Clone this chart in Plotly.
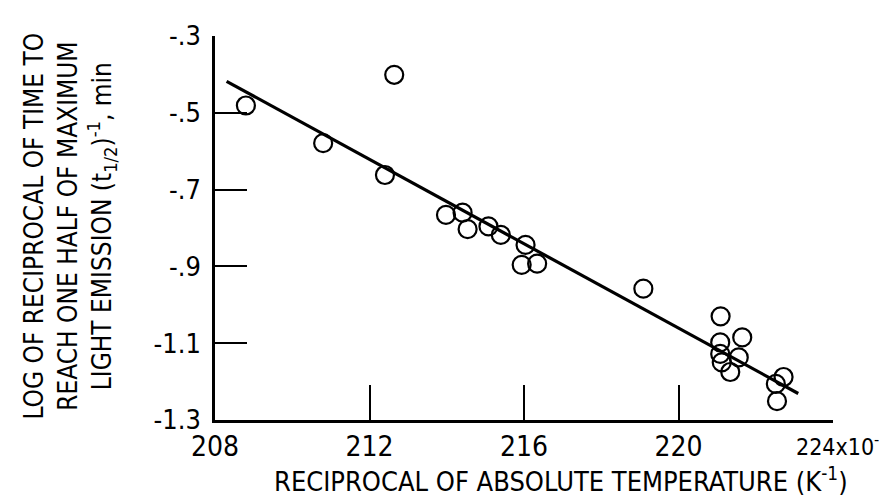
import plotly.graph_objects as go

# data (x in units of 1e-5 K^-1)
x_vals = [208.80, 210.80, 212.40, 212.64, 213.98, 214.41, 214.54, 215.08, 215.40,
          216.04, 215.94, 216.34, 219.09, 221.09, 221.08, 221.65, 221.08, 221.12,
          221.56, 221.34, 222.52, 222.72, 222.55]
y_vals = [-0.481, -0.579, -0.662, -0.401, -0.766, -0.760, -0.803, -0.796, -0.818,
          -0.844, -0.896, -0.893, -0.958, -1.030, -1.098, -1.085, -1.128, -1.150,
          -1.137, -1.175, -1.206, -1.188, -1.251]
fit_x = [208.3, 223.1]
fit_y = [-0.418, -1.231]

x_ticks = [208, 212, 216, 220, 224]
x_tick_text = ["208", "212", "216", "220", ""]
y_ticks = [-0.3, -0.5, -0.7, -0.9, -1.1, -1.3]
y_tick_text = ["-.3", "-.5", "-.7", "-.9", "-1.1", "-1.3"]

FONT = "Liberation Sans Narrow, DejaVu Sans Condensed, Arial Narrow, sans-serif"

W, H = 887, 498
L, R, T, B = 207, 62, 25, 86
PW, PH = W - L - R, H - T - B


def px(xp):
    return (xp - L) / PW


def py(yp):
    return (H - B - yp) / PH


fig = go.Figure()
fig.add_trace(go.Scatter(x=fit_x, y=fit_y, mode="lines",
                         line=dict(color="black", width=3.2), hoverinfo="skip"))
fig.add_trace(go.Scatter(x=x_vals, y=y_vals, mode="markers",
                         marker=dict(symbol="circle-open", size=18, color="black",
                                     line=dict(width=2.2, color="black"))))

fig.update_layout(
    width=W, height=H,
    margin=dict(l=L, r=R, t=T, b=B),
    paper_bgcolor="white", plot_bgcolor="white",
    showlegend=False,
    font=dict(family=FONT, color="black"),
    xaxis=dict(range=[208, 224], tickvals=x_ticks, ticktext=x_tick_text,
               ticks="inside", ticklen=35, tickwidth=2, tickcolor="black",
               showline=True, linecolor="black", linewidth=2.5,
               showgrid=False, zeroline=False,
               tickfont=dict(family=FONT, size=28, color="black")),
    yaxis=dict(range=[-1.3, -0.3], tickvals=y_ticks, ticktext=y_tick_text,
               ticks="inside", ticklen=32, tickwidth=2, tickcolor="black",
               showline=True, linecolor="black", linewidth=2.5,
               showgrid=False, zeroline=False, ticklabelstandoff=6,
               tickfont=dict(family=FONT, size=27, color="black")),
    annotations=[
        dict(text="224x10<sup>-5</sup>", x=px(786), y=py(420), xref="paper", yref="paper",
             xanchor="left", yanchor="top", showarrow=False,
             font=dict(family=FONT, size=23, color="black")),
        dict(text="RECIPROCAL OF ABSOLUTE TEMPERATURE (K<sup>-1</sup>)",
             x=px(553), y=py(492), xref="paper", yref="paper", showarrow=False,
             xanchor="center", yanchor="bottom",
             font=dict(family=FONT, size=27, color="black")),
        dict(text="LOG OF RECIPROCAL OF TIME TO<br>REACH ONE HALF OF MAXIMUM<br>"
                  "LIGHT EMISSION (t<sub>1/2</sub>)<sup>-1</sup>, min",
             x=px(62), y=py(217), xref="paper", yref="paper",
             showarrow=False, textangle=-90,
             xanchor="center", yanchor="middle",
             font=dict(family=FONT, size=26, color="black")),
    ],
)

fig.write_html("out.html")
